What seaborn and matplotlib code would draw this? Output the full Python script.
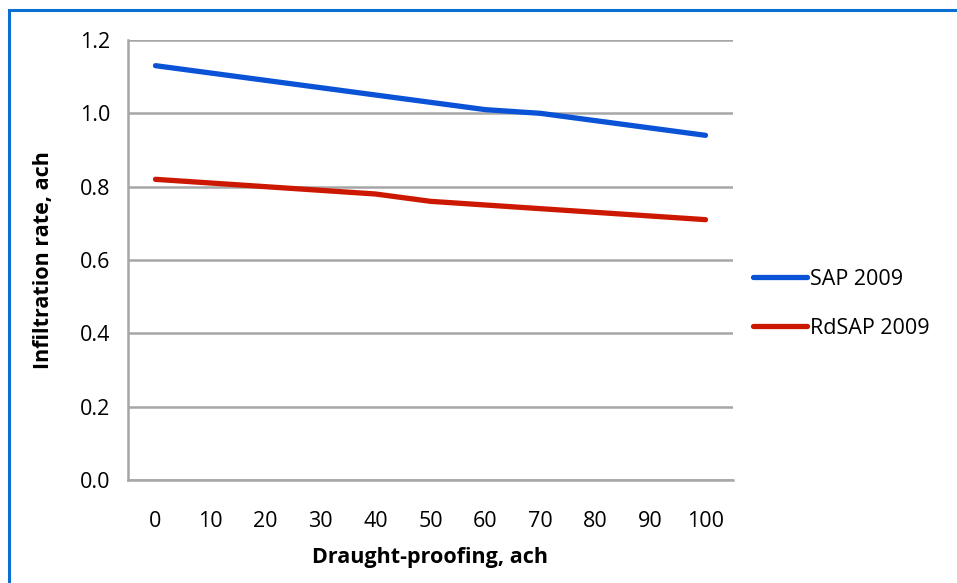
import numpy as np
import pandas as pd
import matplotlib
matplotlib.use('Agg')
import matplotlib.pyplot as plt
from matplotlib.patches import Rectangle
import seaborn as sns

draught = ['0', '10', '20', '30', '40', '50', '60', '70', '80', '90', '100']
sap_2009 = [1.13, 1.11, 1.09, 1.07, 1.05, 1.03, 1.01, 1.00, 0.98, 0.96, 0.94]
rdsap_2009 = [0.82, 0.81, 0.80, 0.79, 0.78, 0.76, 0.75, 0.74, 0.73, 0.72, 0.71]
series_names = ['SAP 2009', 'RdSAP 2009']
colors = ['#0a52d6', '#cc1800']

df = pd.DataFrame({
    'draught': draught * 2,
    'rate': sap_2009 + rdsap_2009,
    'series': [series_names[0]] * len(draught) + [series_names[1]] * len(draught),
})

sns.set_style('white')
plt.rcParams['font.family'] = ['Open Sans', 'DejaVu Sans']
plt.rcParams['text.color'] = 'black'
plt.rcParams['axes.labelcolor'] = 'black'
plt.rcParams['xtick.labelcolor'] = 'black'
plt.rcParams['ytick.labelcolor'] = 'black'

fig = plt.figure(figsize=(9.57, 5.83), dpi=100)
ax = fig.add_axes([128 / 957, 103 / 583, 605 / 957, 440 / 583])

sns.lineplot(data=df, x='draught', y='rate', hue='series', palette=colors,
             linewidth=3.8, ax=ax, sort=False, solid_capstyle='round')

grid_col = '#a6a6a6'
fs = 15.5
ax.set_ylim(0, 1.2)
ax.set_yticks(np.arange(0, 1.21, 0.2))
ax.set_yticklabels([f'{v:.1f}' for v in np.arange(0, 1.21, 0.2)])
ax.set_xlim(-0.5, len(draught) - 0.5)
ax.set_xticks(range(len(draught)))
ax.set_xticklabels(draught)
ax.set_xticks(np.arange(-0.5, len(draught), 1.0), minor=True)
ax.tick_params(axis='x', which='major', length=0, pad=22, labelsize=fs, labelcolor='black')
ax.tick_params(axis='x', which='minor', length=8, width=1.8, color=grid_col, direction='out')
ax.tick_params(axis='y', length=8, width=1.8, color=grid_col, direction='out',
               labelsize=fs, pad=5, labelcolor='black')
ax.yaxis.grid(True, color=grid_col, linewidth=1.8)
ax.set_axisbelow(True)

for side in ['top', 'right']:
    ax.spines[side].set_visible(False)
for side in ['left', 'bottom']:
    ax.spines[side].set_color(grid_col)
    ax.spines[side].set_linewidth(1.8)

ax.set_xlabel('Draught-proofing, ach', fontsize=fs, fontweight='bold', labelpad=11, color='black')
ax.set_ylabel('Infiltration rate, ach', fontsize=fs, fontweight='bold', labelpad=18, color='black')

leg = ax.legend(loc='center left', bbox_to_anchor=(1.033, 0.40), frameon=False,
                fontsize=fs, handlelength=2.5, handletextpad=0.15, labelspacing=1.3,
                borderaxespad=0, borderpad=0)
for line in leg.get_lines():
    line.set_linewidth(3.8)
for txt in leg.get_texts():
    txt.set_color('black')

fig.patches.append(Rectangle((9 / 957, -0.1), 1.2, (583 - 10) / 583 + 0.1,
                             transform=fig.transFigure, fill=False,
                             edgecolor='#0a6fd0', linewidth=2.2))

fig.savefig('out.png', dpi=100)
